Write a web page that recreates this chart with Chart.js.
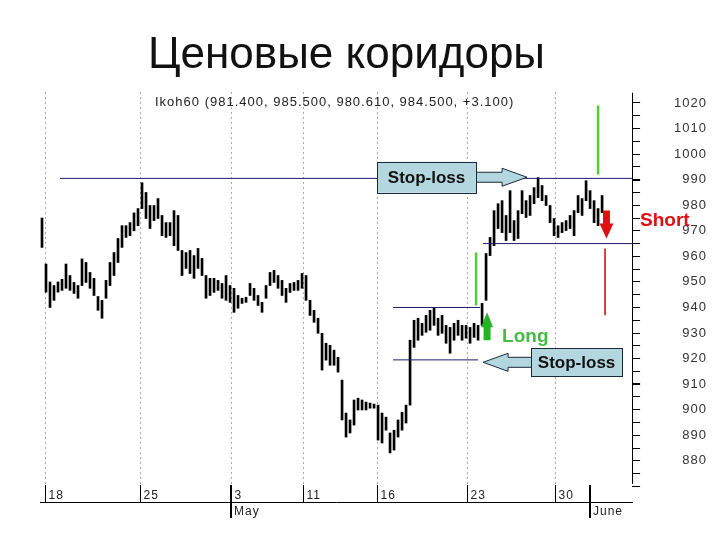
<!DOCTYPE html>
<html><head><meta charset="utf-8">
<script src="https://cdn.jsdelivr.net/npm/chart.js@4"></script>
<style>html,body{margin:0;padding:0;background:#fff}canvas{display:block}</style>
</head><body>
<canvas id="c" width="720" height="540"></canvas>
<script>
const titleText = 'Ценовые коридоры';
const headerText = 'Ikoh60 (981.400, 985.500, 980.610, 984.500, +3.100)';
// hourly bars (high / low)
const highs = [975,957,950,948.6,950,951,957,952.5,949.8,948.6,
 959,957.6,953.7,951.4,944.3,942.8,950.6,957.6,961.5,967,
 972,972,973.2,977,978.7,988.8,985,979.9,979.9,982.6,
 976,973.2,973.2,977.9,976,962.3,961.5,962.3,960.3,963.1,
 959.2,952.5,951.4,951.4,950.6,949.4,952.5,948.6,947.5,944.7,
 943.6,944,949.4,947.5,944.7,942,948.6,953.7,954.5,952.5,
 950.6,947.5,949.4,949.8,950.6,953.3,952.5,942.8,938.9,935.8,
 929.9,926,925.2,923.3,920.5,911.6,898.7,896,903.8,904.5,
 903.8,903,902.6,902.2,901.8,898.7,897.1,890.9,892,896,
 899,901.8,927.2,935,935.8,933.8,936.9,938.9,939.7,935.8,
 936.9,933,932.2,933.8,935,933,933,932.2,933.8,933,
 941.6,961.1,967.4,977.9,980.6,981.8,976,985.7,974,977.9,
 985.7,981.8,983.8,986.9,990.8,987.7,983.8,979.9,974.8,972,
 973.2,974,976,977.9,983.8,982.6,989.6,985.7,981.8,978.7,983.8];
const lows = [963.5,946,940,942.8,946,946.7,947.5,946.7,945.5,943.6,
 948.6,949.8,947.5,944.7,938.9,935.8,943.6,948.6,952.5,957.6,
 963.5,967.4,968.1,970,972,978.7,974.8,970.9,974,974.8,
 968.1,967.4,968.1,964.2,962.3,952.5,955.3,953.3,951.4,955.3,
 952.5,943.6,944.7,945.9,946.7,943.6,942.8,942,938.1,939.7,
 941.6,942,944.7,942.8,940.8,938.1,943.6,948.6,949.8,947.5,
 944.7,942,945.9,946.7,946.7,947.5,942.8,936.9,934.2,929.9,
 915.5,919.4,917.4,917.4,914.7,896,889.3,890.9,894,899.9,
 899.9,899.9,900.6,900.6,888.1,887,892,883.1,884.2,889.3,
 892,894.8,901.8,924.4,927.2,929.1,930.3,931.1,933,929.1,
 929.9,926,922.1,927.2,929.1,927.2,928,926,928.3,927.2,
 933,942.8,960.3,964.2,970.9,969.3,966.2,969.3,966.2,967,
 976.7,975.2,976,980.6,983,981.8,979.9,973.2,968.1,967.4,
 969.3,970.1,970.9,968.1,977.1,976,981.8,978.7,973.2,972,977.1];
const dayLabels = ['18','25','3','11','16','23','30'];
const dayTicks = [1.25,25,47.75,65.75,84.25,106.75,128.75];
const monthLabels = ['May','June'];
const monthTicks = [47.75,137.5];
// corridor levels
const levelValues = [990.5,965,940,919.5];
const levelStart = [5,110.75,88.25,88.25];
const levelEnd = [148,148,110,109.5];
// signal markers
const signalX = [139.5,109,141.25];
const signalTop = [1019,961.5,963];
const signalBottom = [992,940.8,937];
const signalColors = ['#55cc33','#55cc33','#dd2222'];
const signalWidths = [2.5,2.5,1];

Chart.defaults.font.family = '"Liberation Sans", Arial, sans-serif';

const datasets = [];
levelValues.forEach((v,i)=>datasets.push({type:'line',data:[{x:levelStart[i],y:v},{x:levelEnd[i],y:v}],
  borderColor:'#1c1c6e',borderWidth:1,pointRadius:0,order:1}));
signalX.forEach((sx,i)=>datasets.push({type:'line',data:[{x:sx,y:signalTop[i]},{x:sx,y:signalBottom[i]}],
  borderColor:signalColors[i],borderWidth:signalWidths[i],pointRadius:0,order:1}));
datasets.push({type:'bar',data:highs.map((h,i)=>({x:i+0.5,y:[lows[i],h]})),
  backgroundColor:'#000',borderWidth:0,barThickness:2,order:2});

const overlay = {
  id:'overlay',
  beforeDraw(chart){ chart.ctx.letterSpacing='1px'; },
  afterDraw(chart,args,o){
    const {ctx,chartArea:ca,scales:{x,y}} = chart;
    const px=v=>x.getPixelForValue(v), py=v=>y.getPixelForValue(v);
    ctx.save();
    ctx.letterSpacing='0px';
    // title
    ctx.fillStyle='#111'; ctx.font='44px "Liberation Sans", Arial'; ctx.textBaseline='alphabetic'; ctx.textAlign='left';
    ctx.fillText(titleText,148,68);
    // header
    ctx.letterSpacing='1px';
    ctx.font='13px "Liberation Sans", Arial'; ctx.fillStyle='#222';
    ctx.fillText(headerText,155,106);
    // y axis line
    ctx.strokeStyle='#000'; ctx.lineWidth=1;
    ctx.beginPath(); const ax=Math.round(ca.right)+0.5; ctx.moveTo(ax,py(1024)); ctx.lineTo(ax,py(871)); ctx.stroke();
    // date labels
    ctx.letterSpacing='1px'; ctx.font='12px "Liberation Sans", Arial'; ctx.fillStyle='#222';
    dayLabels.forEach((l,i)=>{const xx=Math.round(px(dayTicks[i]))+0.5;
      ctx.lineWidth=1; ctx.beginPath(); ctx.moveTo(xx,ca.bottom-17); ctx.lineTo(xx,ca.bottom); ctx.stroke();
      ctx.fillText(l,xx+3,ca.bottom-3);});
    monthLabels.forEach((l,i)=>{const xx=Math.round(px(monthTicks[i]));
      ctx.lineWidth=2; ctx.beginPath(); ctx.moveTo(xx,ca.bottom-17); ctx.lineTo(xx,ca.bottom+16); ctx.stroke();
      ctx.fillText(l,xx+3,ca.bottom+13);});
    ctx.letterSpacing='0px';
    // callouts
    o.callouts.forEach(c=>{
      const x1=px(c.left),x2=px(c.right),y1=py(c.top),y2=py(c.bottom),tx=px(c.tipX),yc=(y1+y2)/2;
      const sh=5, hh=9, hl=25;
      const base = c.dir==='right'?x2:x1, s = c.dir==='right'?1:-1, hb = tx - s*hl;
      ctx.beginPath();
      ctx.moveTo(base,yc-sh); ctx.lineTo(hb,yc-sh); ctx.lineTo(hb,yc-hh); ctx.lineTo(tx,yc);
      ctx.lineTo(hb,yc+hh); ctx.lineTo(hb,yc+sh); ctx.lineTo(base,yc+sh);
      ctx.fillStyle='#b3d6df'; ctx.fill(); ctx.strokeStyle='#1a2a3a'; ctx.lineWidth=1; ctx.stroke();
      ctx.fillRect(x1,y1,x2-x1,y2-y1);
      ctx.strokeRect(Math.round(x1)+0.5,Math.round(y1)+0.5,Math.round(x2-x1),Math.round(y2-y1));
      ctx.fillStyle='#111'; ctx.font='bold 17px "Liberation Sans", Arial'; ctx.textAlign='center'; ctx.textBaseline='middle';
      ctx.fillText(c.text,(x1+x2)/2,yc+1);
    });
    // signal arrows
    o.arrows.forEach(a=>{
      const cx=px(a.x), yt=py(a.from), yb=py(a.to), hw=a.headW/2, sw=a.shaftW/2, hh=15;
      ctx.beginPath();
      if(a.dir==='up'){
        ctx.moveTo(cx,yt); ctx.lineTo(cx+hw,yt+hh); ctx.lineTo(cx+sw,yt+hh); ctx.lineTo(cx+sw,yb);
        ctx.lineTo(cx-sw,yb); ctx.lineTo(cx-sw,yt+hh); ctx.lineTo(cx-hw,yt+hh);
      } else {
        ctx.moveTo(cx,yb); ctx.lineTo(cx+hw,yb-hh); ctx.lineTo(cx+sw,yb-hh); ctx.lineTo(cx+sw,yt);
        ctx.lineTo(cx-sw,yt); ctx.lineTo(cx-sw,yb-hh); ctx.lineTo(cx-hw,yb-hh);
      }
      ctx.closePath(); ctx.fillStyle=a.color; ctx.fill();
    });
    // labels
    o.labels.forEach(l=>{
      ctx.font='bold 19px "Liberation Sans", Arial'; ctx.fillStyle=l.color; ctx.textAlign='left'; ctx.textBaseline='middle';
      ctx.fillText(l.text,px(l.x),py(l.y));
    });
    ctx.restore();
    chart.ctx.letterSpacing='0px';
  }
};

new Chart(document.getElementById('c'),{
  type:'bar',
  data:{datasets},
  plugins:[overlay],
  options:{
    responsive:false, animation:false, devicePixelRatio:1,
    layout:{padding:{top:92,left:40,right:13,bottom:38}},
    plugins:{legend:{display:false},tooltip:{enabled:false},
      overlay:{
        callouts:[{left:84.25,right:109,top:997,bottom:984.9,tipX:121.75,dir:'right',text:'Stop-loss'},
                  {left:122.75,right:145.5,top:924,bottom:913.1,tipX:110.75,dir:'left',text:'Stop-loss'}],
        arrows:[{x:111.75,from:938.1,to:927.2,dir:'up',color:'#22b422',headW:12,shaftW:7},
                {x:141.6,from:977.9,to:967,dir:'down',color:'#e01010',headW:14,shaftW:7}],
        labels:[{text:'Long',x:115.5,y:928.7,color:'#44bb44'},{text:'Short',x:150,y:974,color:'#dd1111'}]
      }},
    scales:{
      x:{type:'linear',min:0,max:148,offset:false,
        afterBuildTicks:s=>{s.ticks=dayTicks.map(v=>({value:v}));},
        ticks:{display:false},
        grid:{offset:false,color:'#aaa',lineWidth:1,drawTicks:false,tickLength:0},
        border:{display:true,color:'#000',width:1,dash:[2,3]}},
      y:{position:'right',min:863.9,max:1024.3,
        ticks:{stepSize:5,includeBounds:false,autoSkip:false,padding:19,crossAlign:'far',color:'#333',
          font:{size:13},
          callback:v=>(Math.round(v)%10===0&&v>=880&&v<=1020)?String(Math.round(v)):''},
        grid:{drawOnChartArea:false,drawTicks:true,tickLength:8,color:'#000',
          tickColor:c=>(c.tick&&c.tick.value<869)?'rgba(0,0,0,0)':'#000',
          lineWidth:c=>(c.tick&&(Math.round(c.tick.value)===990||Math.round(c.tick.value)===910))?2:1},
        border:{display:false}}
    }
  }
});
</script>
</body></html>
